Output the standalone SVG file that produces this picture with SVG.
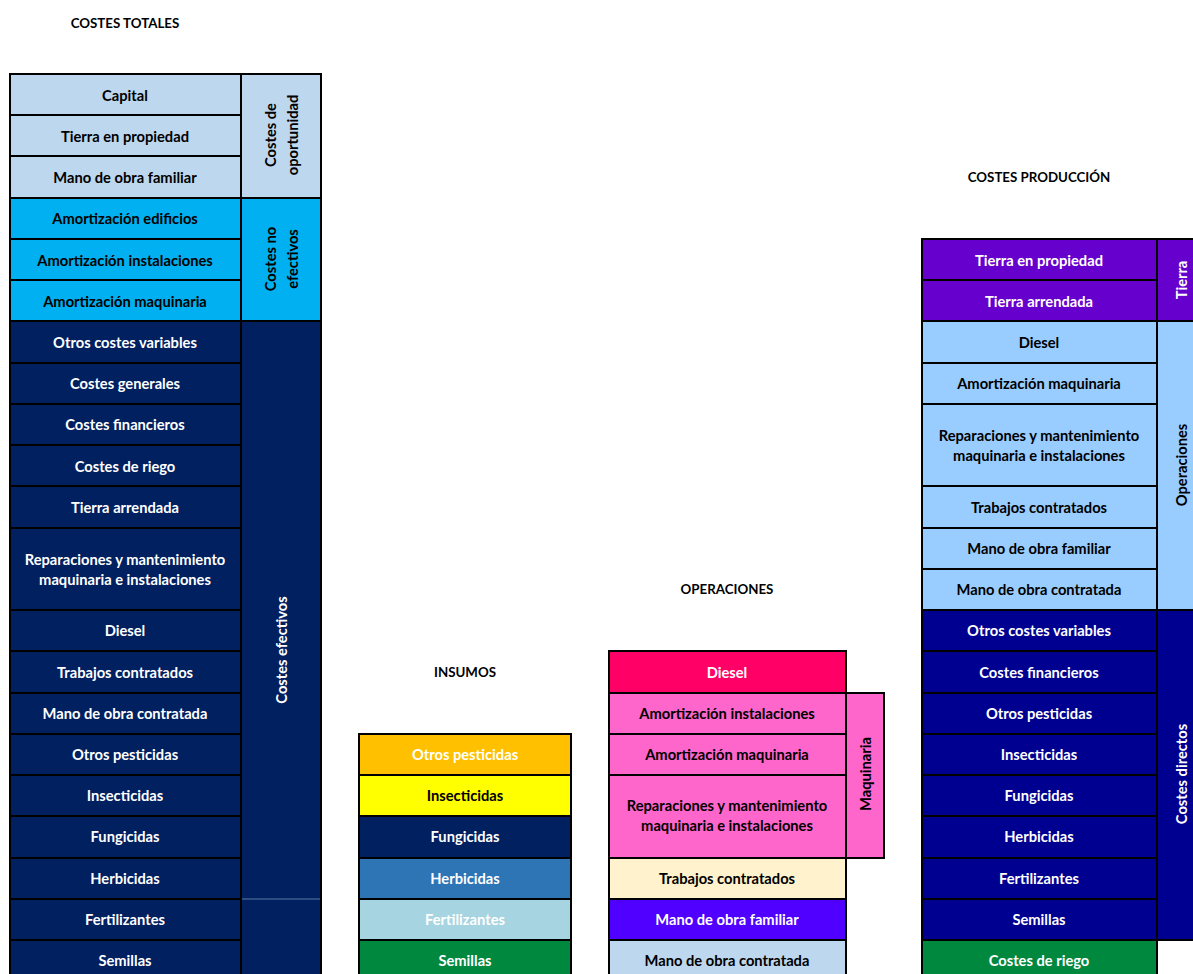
<svg xmlns="http://www.w3.org/2000/svg" width="1193" height="974" viewBox="0 0 1193 974">
<style>
rect{stroke:#000;stroke-width:2}
text{font-family:Lato,"Liberation Sans",sans-serif;font-weight:bold;font-size:14.7px;text-anchor:middle;dominant-baseline:central}
.w{fill:#fff}.k{fill:#000}
.t{font-size:13.3px}
.lb{fill:#BDD7EE}.cy{fill:#00B0F0}.nv{fill:#002060}.pu{fill:#6600CC}.sk{fill:#99CCFF}.db{fill:#000090}.gr{fill:#00883E}
</style>
<rect width="1193" height="974" fill="#fff" style="stroke:none"/>
<g id="titles">
<text class="t" x="125" y="23">COSTES TOTALES</text>
<text class="t" x="1039" y="177">COSTES PRODUCCIÓN</text>
<text class="t" x="465" y="672">INSUMOS</text>
<text class="t" x="727" y="589">OPERACIONES</text>
</g>
<g id="costes-totales">
<g id="ct-side">
<rect class="lb" x="241" y="74" width="80" height="124"/>
<rect class="cy" x="241" y="198" width="80" height="123"/>
<rect class="nv" x="241" y="321" width="80" height="665"/>
<line x1="242" y1="899" x2="320" y2="899" stroke="#5a78a8" stroke-width="1"/>
<text class="k" transform="translate(281,135) rotate(-90)"><tspan x="0" dy="-11">Costes de</tspan><tspan x="0" dy="22">oportunidad</tspan></text>
<text class="k" transform="translate(281,259) rotate(-90)"><tspan x="0" dy="-11">Costes no</tspan><tspan x="0" dy="22">efectivos</tspan></text>
<text class="w" transform="translate(281,650) rotate(-90)">Costes efectivos</text>
</g>
<g id="ct-1"><rect class="lb" x="10" y="74" width="231" height="41"/><text class="k" x="125" y="95">Capital</text></g>
<g id="ct-2"><rect class="lb" x="10" y="115" width="231" height="41"/><text class="k" x="125" y="136">Tierra en propiedad</text></g>
<g id="ct-3"><rect class="lb" x="10" y="156" width="231" height="42"/><text class="k" x="125" y="177">Mano de obra familiar</text></g>
<g id="ct-4"><rect class="cy" x="10" y="198" width="231" height="41"/><text class="k" x="125" y="218">Amortización edificios</text></g>
<g id="ct-5"><rect class="cy" x="10" y="239" width="231" height="41"/><text class="k" x="125" y="260">Amortización instalaciones</text></g>
<g id="ct-6"><rect class="cy" x="10" y="280" width="231" height="41"/><text class="k" x="125" y="301">Amortización maquinaria</text></g>
<g id="ct-7"><rect class="nv" x="10" y="321" width="231" height="42"/><text class="w" x="125" y="342">Otros costes variables</text></g>
<g id="ct-8"><rect class="nv" x="10" y="363" width="231" height="41"/><text class="w" x="125" y="383">Costes generales</text></g>
<g id="ct-9"><rect class="nv" x="10" y="404" width="231" height="41"/><text class="w" x="125" y="424">Costes financieros</text></g>
<g id="ct-10"><rect class="nv" x="10" y="445" width="231" height="41"/><text class="w" x="125" y="466">Costes de riego</text></g>
<g id="ct-11"><rect class="nv" x="10" y="486" width="231" height="42"/><text class="w" x="125" y="507">Tierra arrendada</text></g>
<g id="ct-12"><rect class="nv" x="10" y="528" width="231" height="82"/><text class="w" x="125" y="569"><tspan x="125" dy="-10">Reparaciones y mantenimiento</tspan><tspan x="125" dy="20">maquinaria e instalaciones</tspan></text></g>
<g id="ct-13"><rect class="nv" x="10" y="610" width="231" height="41"/><text class="w" x="125" y="630">Diesel</text></g>
<g id="ct-14"><rect class="nv" x="10" y="651" width="231" height="42"/><text class="w" x="125" y="672">Trabajos contratados</text></g>
<g id="ct-15"><rect class="nv" x="10" y="693" width="231" height="41"/><text class="w" x="125" y="713">Mano de obra contratada</text></g>
<g id="ct-16"><rect class="nv" x="10" y="734" width="231" height="41"/><text class="w" x="125" y="754">Otros pesticidas</text></g>
<g id="ct-17"><rect class="nv" x="10" y="775" width="231" height="41"/><text class="w" x="125" y="795">Insecticidas</text></g>
<g id="ct-18"><rect class="nv" x="10" y="816" width="231" height="42"/><text class="w" x="125" y="836">Fungicidas</text></g>
<g id="ct-19"><rect class="nv" x="10" y="858" width="231" height="41"/><text class="w" x="125" y="878">Herbicidas</text></g>
<g id="ct-20"><rect class="nv" x="10" y="899" width="231" height="41"/><text class="w" x="125" y="919">Fertilizantes</text></g>
<g id="ct-21"><rect class="nv" x="10" y="940" width="231" height="46"/><text class="w" x="125" y="960">Semillas</text></g>
</g>
<g id="insumos">
<g id="in-1"><rect fill="#FFC000" x="359" y="734" width="212" height="41"/><text class="w" x="465" y="754">Otros pesticidas</text></g>
<g id="in-2"><rect fill="#FFFF00" x="359" y="775" width="212" height="41"/><text class="k" x="465" y="795">Insecticidas</text></g>
<g id="in-3"><rect fill="#002060" x="359" y="816" width="212" height="42"/><text class="w" x="465" y="836">Fungicidas</text></g>
<g id="in-4"><rect fill="#2E75B6" x="359" y="858" width="212" height="41"/><text class="w" x="465" y="878">Herbicidas</text></g>
<g id="in-5"><rect fill="#A6D4E0" x="359" y="899" width="212" height="41"/><text class="w" x="465" y="919">Fertilizantes</text></g>
<g id="in-6"><rect fill="#00883E" x="359" y="940" width="212" height="46"/><text class="w" x="465" y="960">Semillas</text></g>
</g>
<g id="operaciones">
<g id="op-maq"><rect fill="#FF66CC" x="846" y="693" width="38" height="165"/><text class="k" transform="translate(865,774) rotate(-90)">Maquinaria</text></g>
<g id="op-1"><rect fill="#FF0066" x="609" y="651" width="237" height="42"/><text class="w" x="727" y="672">Diesel</text></g>
<g id="op-2"><rect fill="#FF66CC" x="609" y="693" width="237" height="41"/><text class="k" x="727" y="713">Amortización instalaciones</text></g>
<g id="op-3"><rect fill="#FF66CC" x="609" y="734" width="237" height="41"/><text class="k" x="727" y="754">Amortización maquinaria</text></g>
<g id="op-4"><rect fill="#FF66CC" x="609" y="775" width="237" height="83"/><text class="k" x="727" y="815"><tspan x="727" dy="-10">Reparaciones y mantenimiento</tspan><tspan x="727" dy="20">maquinaria e instalaciones</tspan></text></g>
<g id="op-5"><rect fill="#FFF2CC" x="609" y="858" width="237" height="41"/><text class="k" x="727" y="878">Trabajos contratados</text></g>
<g id="op-6"><rect fill="#5000FF" x="609" y="899" width="237" height="41"/><text class="w" x="727" y="919">Mano de obra familiar</text></g>
<g id="op-7"><rect fill="#BDD7EE" x="609" y="940" width="237" height="46"/><text class="k" x="727" y="960">Mano de obra contratada</text></g>
</g>
<g id="costes-produccion">
<g id="cp-side">
<rect class="pu" x="1157" y="239" width="50" height="82"/>
<rect class="sk" x="1157" y="321" width="50" height="289"/>
<rect class="db" x="1157" y="610" width="50" height="330"/>
<text class="w" transform="translate(1181,280) rotate(-90)">Tierra</text>
<text class="k" transform="translate(1181,465) rotate(-90)">Operaciones</text>
<text class="w" transform="translate(1181,774) rotate(-90)">Costes directos</text>
</g>
<g id="cp-1"><rect class="pu" x="922" y="239" width="235" height="41"/><text class="w" x="1039" y="260">Tierra en propiedad</text></g>
<g id="cp-2"><rect class="pu" x="922" y="280" width="235" height="41"/><text class="w" x="1039" y="301">Tierra arrendada</text></g>
<g id="cp-3"><rect class="sk" x="922" y="321" width="235" height="42"/><text class="k" x="1039" y="342">Diesel</text></g>
<g id="cp-4"><rect class="sk" x="922" y="363" width="235" height="41"/><text class="k" x="1039" y="383">Amortización maquinaria</text></g>
<g id="cp-5"><rect class="sk" x="922" y="404" width="235" height="82"/><text class="k" x="1039" y="445"><tspan x="1039" dy="-10">Reparaciones y mantenimiento</tspan><tspan x="1039" dy="20">maquinaria e instalaciones</tspan></text></g>
<g id="cp-6"><rect class="sk" x="922" y="486" width="235" height="42"/><text class="k" x="1039" y="507">Trabajos contratados</text></g>
<g id="cp-7"><rect class="sk" x="922" y="528" width="235" height="41"/><text class="k" x="1039" y="548">Mano de obra familiar</text></g>
<g id="cp-8"><rect class="sk" x="922" y="569" width="235" height="41"/><text class="k" x="1039" y="589">Mano de obra contratada</text></g>
<g id="cp-9"><rect class="db" x="922" y="610" width="235" height="41"/><text class="w" x="1039" y="630">Otros costes variables</text></g>
<g id="cp-10"><rect class="db" x="922" y="651" width="235" height="42"/><text class="w" x="1039" y="672">Costes financieros</text></g>
<g id="cp-11"><rect class="db" x="922" y="693" width="235" height="41"/><text class="w" x="1039" y="713">Otros pesticidas</text></g>
<g id="cp-12"><rect class="db" x="922" y="734" width="235" height="41"/><text class="w" x="1039" y="754">Insecticidas</text></g>
<g id="cp-13"><rect class="db" x="922" y="775" width="235" height="41"/><text class="w" x="1039" y="795">Fungicidas</text></g>
<g id="cp-14"><rect class="db" x="922" y="816" width="235" height="42"/><text class="w" x="1039" y="836">Herbicidas</text></g>
<g id="cp-15"><rect class="db" x="922" y="858" width="235" height="41"/><text class="w" x="1039" y="878">Fertilizantes</text></g>
<g id="cp-16"><rect class="db" x="922" y="899" width="235" height="41"/><text class="w" x="1039" y="919">Semillas</text></g>
<g id="cp-17"><rect class="gr" x="922" y="940" width="235" height="46"/><text class="w" x="1039" y="960">Costes de riego</text></g>
</g>
<g id="connectors"/>
</svg>
